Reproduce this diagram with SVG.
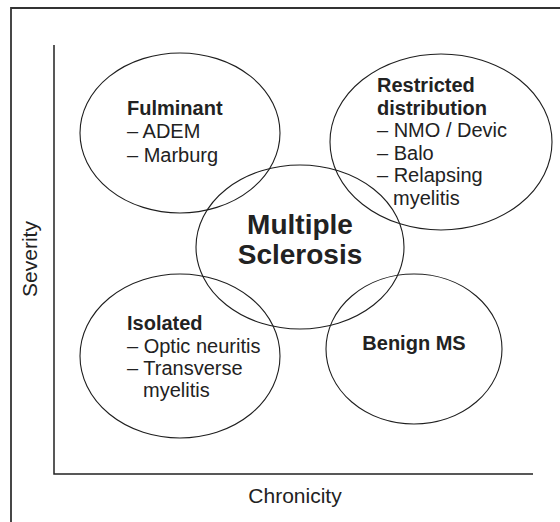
<svg xmlns="http://www.w3.org/2000/svg" width="560" height="522" viewBox="0 0 560 522">
  <style>
    .bg { fill: #ffffff; }
    .frame { fill: none; stroke: #333333; stroke-width: 1.8; }
    .axis { fill: none; stroke: #222222; stroke-width: 1.5; }
    .node { fill: none; stroke: #1e1e1e; stroke-width: 1.1; }
    text { font-family: "Liberation Sans", Arial, sans-serif; fill: #222222; font-size: 20px; }
    .b { font-weight: bold; }
    .big { font-weight: bold; font-size: 28px; }
    .axlabel { font-size: 21px; }
  </style>
  <rect class="bg" x="0" y="0" width="560" height="522"/>

  <!-- page frame (top and left edges) -->
  <path class="frame" d="M11,522 V8 H560"/>

  <!-- axes -->
  <g id="axes">
    <path class="axis" d="M54,45 V474 H533"/>
    <text class="axlabel" text-anchor="middle" transform="translate(37,259) rotate(-90)">Severity</text>
    <text class="axlabel" x="295" y="503" text-anchor="middle">Chronicity</text>
  </g>

  <g id="connectors"></g>

  <g id="fulminant">
    <ellipse class="node" cx="180" cy="133" rx="100" ry="80"/>
    <text x="127" y="115" class="b">Fulminant</text>
    <text x="127" y="138">– ADEM</text>
    <text x="127" y="162">– Marburg</text>
  </g>

  <g id="restricted">
    <ellipse class="node" cx="441" cy="142" rx="111" ry="88"/>
    <text x="377" y="92" class="b">Restricted</text>
    <text x="377" y="114.5" class="b">distribution</text>
    <text x="377" y="137">– NMO / Devic</text>
    <text x="377" y="159.5">– Balo</text>
    <text x="377" y="182">– Relapsing</text>
    <text x="393" y="204.5">myelitis</text>
  </g>

  <g id="ms">
    <ellipse class="node" cx="300" cy="247" rx="104" ry="82"/>
    <text x="300" y="234" class="big" text-anchor="middle">Multiple</text>
    <text x="300" y="264" class="big" text-anchor="middle">Sclerosis</text>
  </g>

  <g id="isolated">
    <ellipse class="node" cx="180" cy="356" rx="100" ry="82"/>
    <text x="127" y="330" class="b">Isolated</text>
    <text x="127" y="352.7">– Optic neuritis</text>
    <text x="127" y="375">– Transverse</text>
    <text x="143" y="397.3">myelitis</text>
  </g>

  <g id="benign">
    <ellipse class="node" cx="414" cy="349" rx="88" ry="75"/>
    <text x="414" y="350" class="b" text-anchor="middle">Benign MS</text>
  </g>
</svg>
